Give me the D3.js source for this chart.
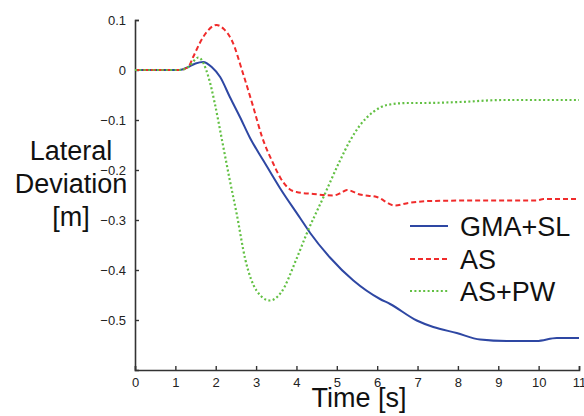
<!DOCTYPE html>
<html>
<head>
<meta charset="utf-8">
<script src="https://cdn.jsdelivr.net/npm/d3@7"></script>
<style>
  html, body { margin: 0; padding: 0; background: #fff; }
  svg { display: block; font-family: "Liberation Sans", Arial, Helvetica, sans-serif; }
</style>
</head>
<body>
<svg id="chart" width="584" height="416"></svg>
<script>
// Lateral deviation over time for three controllers
const gmaSl = [
  [0, 0], [1.1, 0], [1.32, 0.006], [1.5, 0.013], [1.69, 0.016], [1.9, 0.006],
  [2.11, -0.014], [2.35, -0.054], [2.6, -0.094], [2.85, -0.136], [3.18, -0.181],
  [3.59, -0.236], [4.09, -0.296], [4.34, -0.326], [4.83, -0.375], [5.41, -0.421],
  [6.07, -0.458], [6.32, -0.468], [6.98, -0.501], [7.39, -0.514], [7.97, -0.526],
  [8.55, -0.539], [9.21, -0.542], [9.95, -0.542], [10.45, -0.536], [11, -0.536]
];
const as = [
  [0, 0], [1.1, 0], [1.32, 0.006], [1.44, 0.026], [1.69, 0.066], [2.02, 0.090],
  [2.2, 0.082], [2.4, 0.059], [2.68, -0.008], [2.93, -0.074], [3.14, -0.132],
  [3.43, -0.188], [3.59, -0.214], [3.84, -0.239], [4.0, -0.244], [4.42, -0.248],
  [4.91, -0.251], [5.1, -0.246], [5.25, -0.240], [5.57, -0.249], [5.99, -0.254],
  [6.44, -0.271], [6.77, -0.266], [7.31, -0.262], [8.55, -0.261], [9.95, -0.261],
  [10.12, -0.258], [11, -0.258]
];
const asPw = [
  [0, 0], [1.1, 0], [1.32, 0.006], [1.57, 0.025], [1.82, -0.014], [1.98, -0.068],
  [2.15, -0.138], [2.35, -0.221], [2.52, -0.288], [2.73, -0.378], [3.01, -0.441],
  [3.34, -0.461], [3.62, -0.445], [4.0, -0.378], [4.25, -0.328], [4.67, -0.254],
  [5.08, -0.181], [5.33, -0.141], [5.57, -0.111], [5.9, -0.084], [6.24, -0.070],
  [6.77, -0.066], [7.14, -0.066], [8.05, -0.064], [9.13, -0.060], [11, -0.060]
];

const xTicks = [0, 1, 2, 3, 4, 5, 6, 7, 8, 9, 10, 11];
const yTicks = [0.1, 0, -0.1, -0.2, -0.3, -0.4, -0.5];
const seriesNames = ["GMA+SL", "AS", "AS+PW"];

const svg = d3.select("#chart");
const x = d3.scaleLinear().domain([0, 11]).range([135, 579]);
const y = d3.scaleLinear().domain([-0.6, 0.1]).range([370, 20]);

const styles = [
  { color: "#2e47a3", dash: null, width: 2 },
  { color: "#f02b2b", dash: "5,3", width: 2 },
  { color: "#62c043", dash: "2,2.4", width: 2.2 }
];
const data = [gmaSl, as, asPw];

// axes
const fmt = d => (d === 0 ? "0" : d3.format(".1f")(d));
const yAxis = d3.axisLeft(y).tickValues(yTicks).tickFormat(fmt).tickSize(-4).tickPadding(9);
const xAxis = d3.axisBottom(x).tickValues(xTicks).tickSize(-4).tickPadding(8);

const gy = svg.append("g").attr("transform", `translate(${x(0)},0)`).call(yAxis);
const gx = svg.append("g").attr("transform", `translate(0,${y(-0.6)})`).call(xAxis);
[gx, gy].forEach(g => {
  g.select(".domain").attr("stroke", "#333").attr("stroke-width", 1.6);
  g.selectAll(".tick line").attr("stroke", "#333").attr("stroke-width", 1.4);
  g.selectAll(".tick text").attr("fill", "#222").style("font-size", "13px")
    .style("font-family", "'Liberation Sans', Arial, sans-serif");
});

// curves
const line = d3.line().x(d => x(d[0])).y(d => y(d[1])).curve(d3.curveMonotoneX);
data.forEach((s, i) => {
  svg.append("path")
    .datum(s)
    .attr("d", line)
    .attr("fill", "none")
    .attr("stroke", styles[i].color)
    .attr("stroke-width", styles[i].width)
    .attr("stroke-dasharray", styles[i].dash)
    .attr("stroke-linejoin", "round");
});

// legend
const legend = svg.append("g");
const rowY = [226, 259, 291];
seriesNames.forEach((name, i) => {
  legend.append("line")
    .attr("x1", 410).attr("x2", 448)
    .attr("y1", rowY[i]).attr("y2", rowY[i])
    .attr("stroke", styles[i].color)
    .attr("stroke-width", styles[i].width)
    .attr("stroke-dasharray", styles[i].dash);
  legend.append("text")
    .attr("x", 460).attr("y", rowY[i] + 10)
    .attr("fill", "#111")
    .style("font-size", "27px")
    .text(name);
});

// axis titles
svg.append("text")
  .attr("x", 359).attr("y", 407)
  .attr("text-anchor", "middle")
  .attr("fill", "#111")
  .style("font-size", "27px")
  .text("Time [s]");

const yTitle = ["Lateral", "Deviation", "[m]"];
svg.append("g").selectAll("text")
  .data(yTitle)
  .join("text")
  .attr("x", 71)
  .attr("y", (d, i) => 160 + i * 33)
  .attr("text-anchor", "middle")
  .attr("fill", "#111")
  .style("font-size", "27px")
  .text(d => d);
</script>
</body>
</html>
